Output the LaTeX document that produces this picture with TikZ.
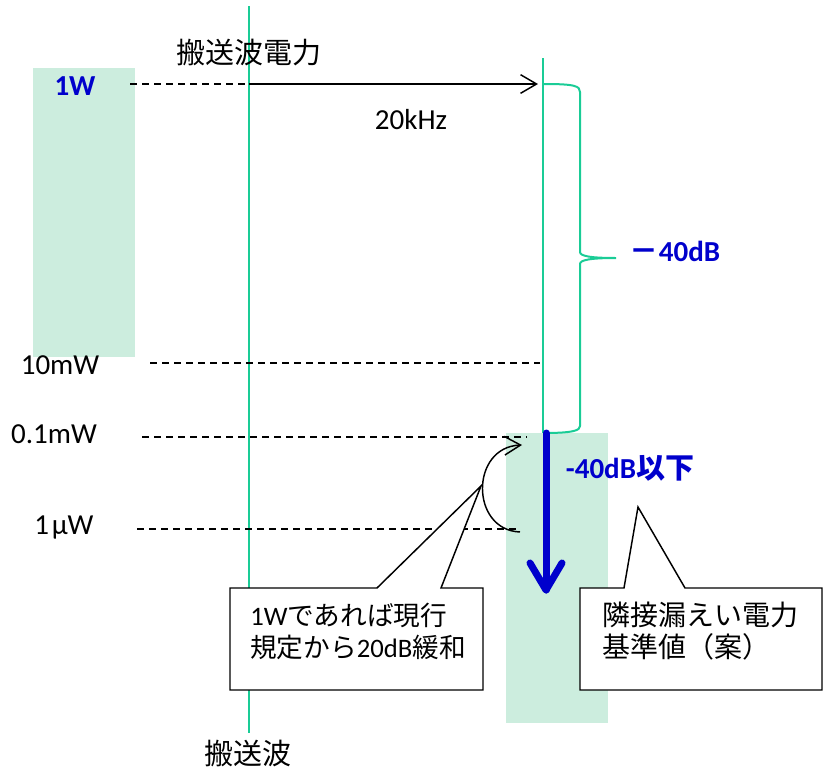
\documentclass[tikz,border=0pt]{standalone}
\usepackage{fontspec}
\setmainfont{Carlito}
\newfontfamily\jp{Noto Sans CJK JP}
\usetikzlibrary{arrows.meta}
\definecolor{gline}{RGB}{26,204,150}
\definecolor{gfill}{RGB}{204,237,222}
\definecolor{dblue}{RGB}{0,0,204}
\begin{document}
\begin{tikzpicture}[x=0.75pt,y=-0.75pt,
  lbl/.style={font=\fontsize{21.75}{26}\selectfont, inner sep=0pt},
  bluelbl/.style={font=\fontsize{21.75}{26}\selectfont\bfseries, text=dblue, inner sep=0pt},
  axisline/.style={draw=gline, line width=1.5pt},
  dashline/.style={draw=black, line width=1.1pt, dash pattern=on 5.25pt off 3.75pt},
  barb/.style={-{Straight Barb[length=12pt,width=14pt]}, line width=1.1pt},
  bluearrow/.style={draw=dblue, line width=5.25pt, line cap=round, line join=round},
  callout/.style={draw=black, fill=white, line width=1.1pt},
  calltext/.style={font=\fontsize{20}{24}\selectfont, align=left, inner sep=0pt, anchor=west},
  calltextb/.style={font=\fontsize{21}{24}\selectfont, align=left, inner sep=0pt, anchor=west}
]
\useasboundingbox (0,0) rectangle (825,768);

% green bands
\fill[gfill] (33,68) rectangle (135,357);
\fill[gfill] (506,433) rectangle (608,723);

% vertical lines
\coordinate (c1top) at (249,6);
\coordinate (c1bot) at (249,733);
\coordinate (c2top) at (543,58);
\coordinate (c2bot) at (543,433);
\draw[axisline] (c1top) -- (c1bot);
\draw[axisline] (c2top) -- (c2bot);

% level lines
\coordinate (w1a) at (130,84);
\coordinate (w1b) at (249,84);
\coordinate (w1c) at (538,84);
\draw[dashline] (w1a) -- (w1b);
\draw[barb] (w1b) -- (w1c);

\coordinate (m10a) at (150,363);
\coordinate (m10b) at (540,363);
\draw[dashline] (m10a) -- (m10b);

\coordinate (m01a) at (142,437);
\coordinate (m01b) at (527,437);
\draw[dashline] (m01a) -- (m01b);

\coordinate (uwa) at (137,529);
\coordinate (uwb) at (520,529);
\draw[dashline] (uwa) -- (uwb);

% labels
\node[lbl] (carrierpow) at (249,53) {\jp 搬送波電力};
\node[lbl] (khz) at (411,120) {20kHz};
\node[bluelbl] (w1) at (75,86) {1W};
\node[lbl] (mw10) at (60,365) {10mW};
\node[lbl] (mw01) at (54,434) {0.1mW};
\node[lbl] (uw1) at (64,527) {1\kern2pt μW};
\node[lbl] (carrier) at (248,753) {\jp 搬送波};

% brace
\draw[gline, line width=1.5pt]
  (544,84) .. controls (575,84) and (580,86) .. (580,92) -- (580,252)
  .. controls (580,256) and (590,258) .. (616,258)
  .. controls (590,258) and (580,260) .. (580,264) -- (580,426)
  .. controls (580,430) and (575,433) .. (544,433);
\node[bluelbl] (db40) at (675,251) {{\jp\bfseries －}40dB};

% blue arrow
\coordinate (ba1) at (546,433);
\coordinate (ba2) at (546,590);
\coordinate (bl) at (530,563);
\coordinate (br) at (562,563);
\draw[bluearrow] (ba1) -- (ba2);
\draw[bluearrow] (bl) -- (ba2) -- (br);
\node[bluelbl] (below) at (630,468) {-40dB{\jp\bfseries 以下}};

% curved arrow
\coordinate (arcs) at (520,532);
\coordinate (arce) at (522,445);
\draw[barb] (arcs) .. controls (470,530) and (470,447) .. (arce);

% callouts
\coordinate (tip1) at (481,486);
\coordinate (tip2) at (638,507);
\draw[callout] (230,588) -- (377,588) -- (tip1) -- (441,588) -- (483,588)
  -- (483,690) -- (230,690) -- cycle;
\draw[callout] (580,588) -- (624,588) -- (tip2) -- (685,588) -- (822,588)
  -- (822,690) -- (580,690) -- cycle;
\node[calltext] (t1) at (250,631) {1W{\jp であれば現行}\\{\jp 規定から}20dB{\jp 緩和}};
\node[calltextb] (t2) at (602,631) {{\jp 隣接漏えい電力}\\{\jp 基準値（案）}};
\end{tikzpicture}
\end{document}
